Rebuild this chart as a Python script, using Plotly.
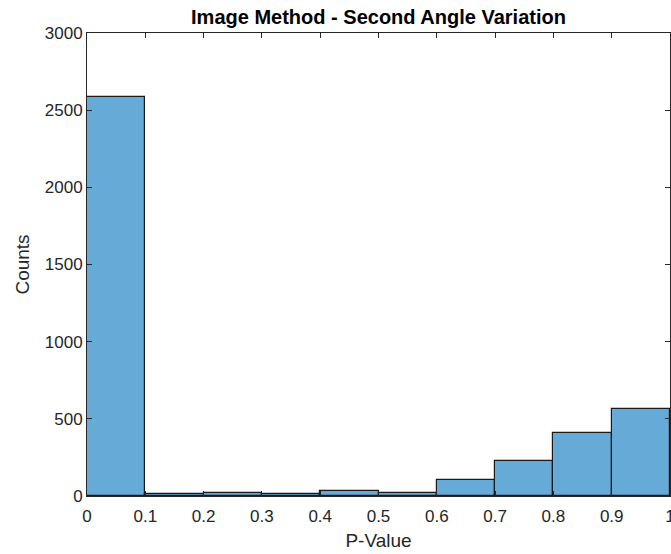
import plotly.graph_objects as go

bin_edges = [0.0, 0.1, 0.2, 0.3, 0.4, 0.5, 0.6, 0.7, 0.8, 0.9, 1.0]
counts = [2585, 10, 20, 10, 30, 22, 104, 229, 406, 562]
x_ticks = [0, 0.1, 0.2, 0.3, 0.4, 0.5, 0.6, 0.7, 0.8, 0.9, 1]
x_tick_labels = ["0", "0.1", "0.2", "0.3", "0.4", "0.5", "0.6", "0.7", "0.8", "0.9", "1"]
y_ticks = [0, 500, 1000, 1500, 2000, 2500, 3000]

centers = [(bin_edges[i] + bin_edges[i + 1]) / 2 for i in range(len(counts))]
widths = [bin_edges[i + 1] - bin_edges[i] for i in range(len(counts))]

fig = go.Figure(go.Bar(
    x=centers, y=counts, width=widths,
    marker=dict(color="rgb(102,170,215)", line=dict(color="#1a1a1a", width=1.2)),
))

font = "Liberation Sans, Arial, sans-serif"
axis_common = dict(
    showgrid=False, zeroline=False, showline=True, linecolor="#262626", linewidth=1,
    mirror="ticks", ticks="inside", ticklen=5, tickcolor="#262626",
    tickfont=dict(family=font, size=17, color="#262626"),
    ticklabeloverflow="allow", automargin=False,
)

fig.update_layout(
    width=671, height=554,
    margin=dict(l=87, r=1, t=33, b=58),
    paper_bgcolor="white", plot_bgcolor="white",
    showlegend=False,
    title=dict(text="<b>Image Method - Second Angle Variation</b>", x=0.5, xref="paper",
               xanchor="center",
               y=1 - 17 / 554, yanchor="middle",
               font=dict(family=font, size=20, color="black")),
    xaxis=dict(range=[0, 1], tickvals=x_ticks, ticktext=x_tick_labels, ticklabelstandoff=5,
               title=dict(text="P-Value", font=dict(family=font, size=19, color="#262626"), standoff=8),
               **axis_common),
    yaxis=dict(range=[0, 3000], tickvals=y_ticks,
               title=dict(text="Counts", font=dict(family=font, size=19, color="#262626"), standoff=10),
               **axis_common),
    bargap=0,
)

fig.write_html("out.html")
